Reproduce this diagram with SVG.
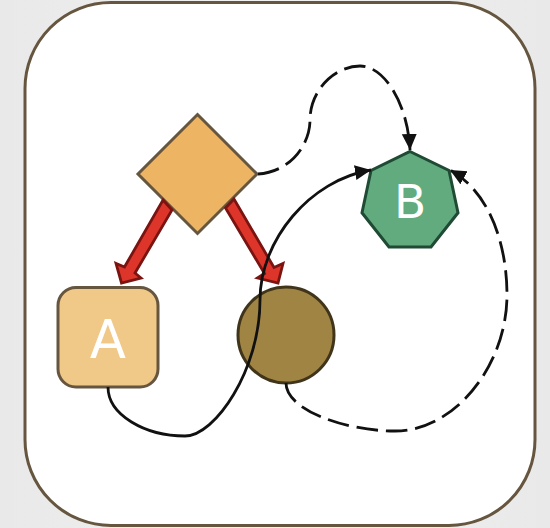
<svg xmlns="http://www.w3.org/2000/svg" width="550" height="528" viewBox="0 0 550 528">
<defs>
<linearGradient id="bg" x1="0" y1="0" x2="1" y2="0"><stop offset="0" stop-color="#e9e9e9"/><stop offset="0.5" stop-color="#f1f1f1"/><stop offset="1" stop-color="#e9e9e9"/></linearGradient>
<marker id="m" markerUnits="userSpaceOnUse" markerWidth="18" markerHeight="16" refX="16" refY="7.5" orient="auto"><path d="M0 0L16 7.5L0 15Z" fill="#111"/></marker>
</defs>
<style>
.e{fill:none;stroke:#111;stroke-width:2.8}
.d{stroke-dasharray:21.6 7.85}
.f{fill:#de352b;stroke:#7a1410;stroke-width:2.8}
.t{font-family:"DejaVu Sans",sans-serif;fill:#fff;text-anchor:middle}
.n{stroke-width:3}
</style>
<rect width="550" height="528" fill="url(#bg)"/>
<rect id="frame" x="25" y="2.500" width="510" height="523" rx="86" fill="#fff" stroke="#66563f" stroke-width="3"/>
<g id="diamond"><path class="n" d="M197.500 114.500L257 174L197.500 233.500L138 174Z" fill="#edb563" stroke="#66563f"/></g>
<g id="A"><rect class="n" x="58" y="287.500" width="100" height="99.500" rx="18" fill="#f0c888" stroke="#66563f"/><text class="t" x="108" y="358" style="font-size:53px">A</text></g>
<g id="circle"><circle class="n" cx="286" cy="335" r="48" fill="#a08443" stroke="#40341a"/></g>
<g id="B"><path class="n" d="M410 151.500L449 170.500L458 212.800L431 247L389 247L362 212.800L371 170.500Z" fill="#62ab7f" stroke="#1f4a34"/><text class="t" x="410" y="218" style="font-size:47px">B</text></g>
<g id="connectors">
<path class="f" d="M163 200L172 210L135 273L141 278L121.500 283L116 263.500L124.500 267Z"/>
<path class="f" d="M234 199L225.500 208L264.500 273.500L257.500 278L278 283L283 263.500L274 267.500Z"/>
<path class="e d" marker-end="url(#m)" d="M258 174C290 172 310 145 310 120C310 90 335 66 360 66C385 66 408 105 410 150"/>
<path class="e" marker-end="url(#m)" d="M108 387C108 415 145 436 185 436C215 436 260 370 260 300C260 240 310 180 371 170"/>
<path class="e d" marker-end="url(#m)" d="M286 383C286 410 345 431 395 431C455 431 507 365 507 295C507 245 490 192 450 170"/>
</g>
</svg>
